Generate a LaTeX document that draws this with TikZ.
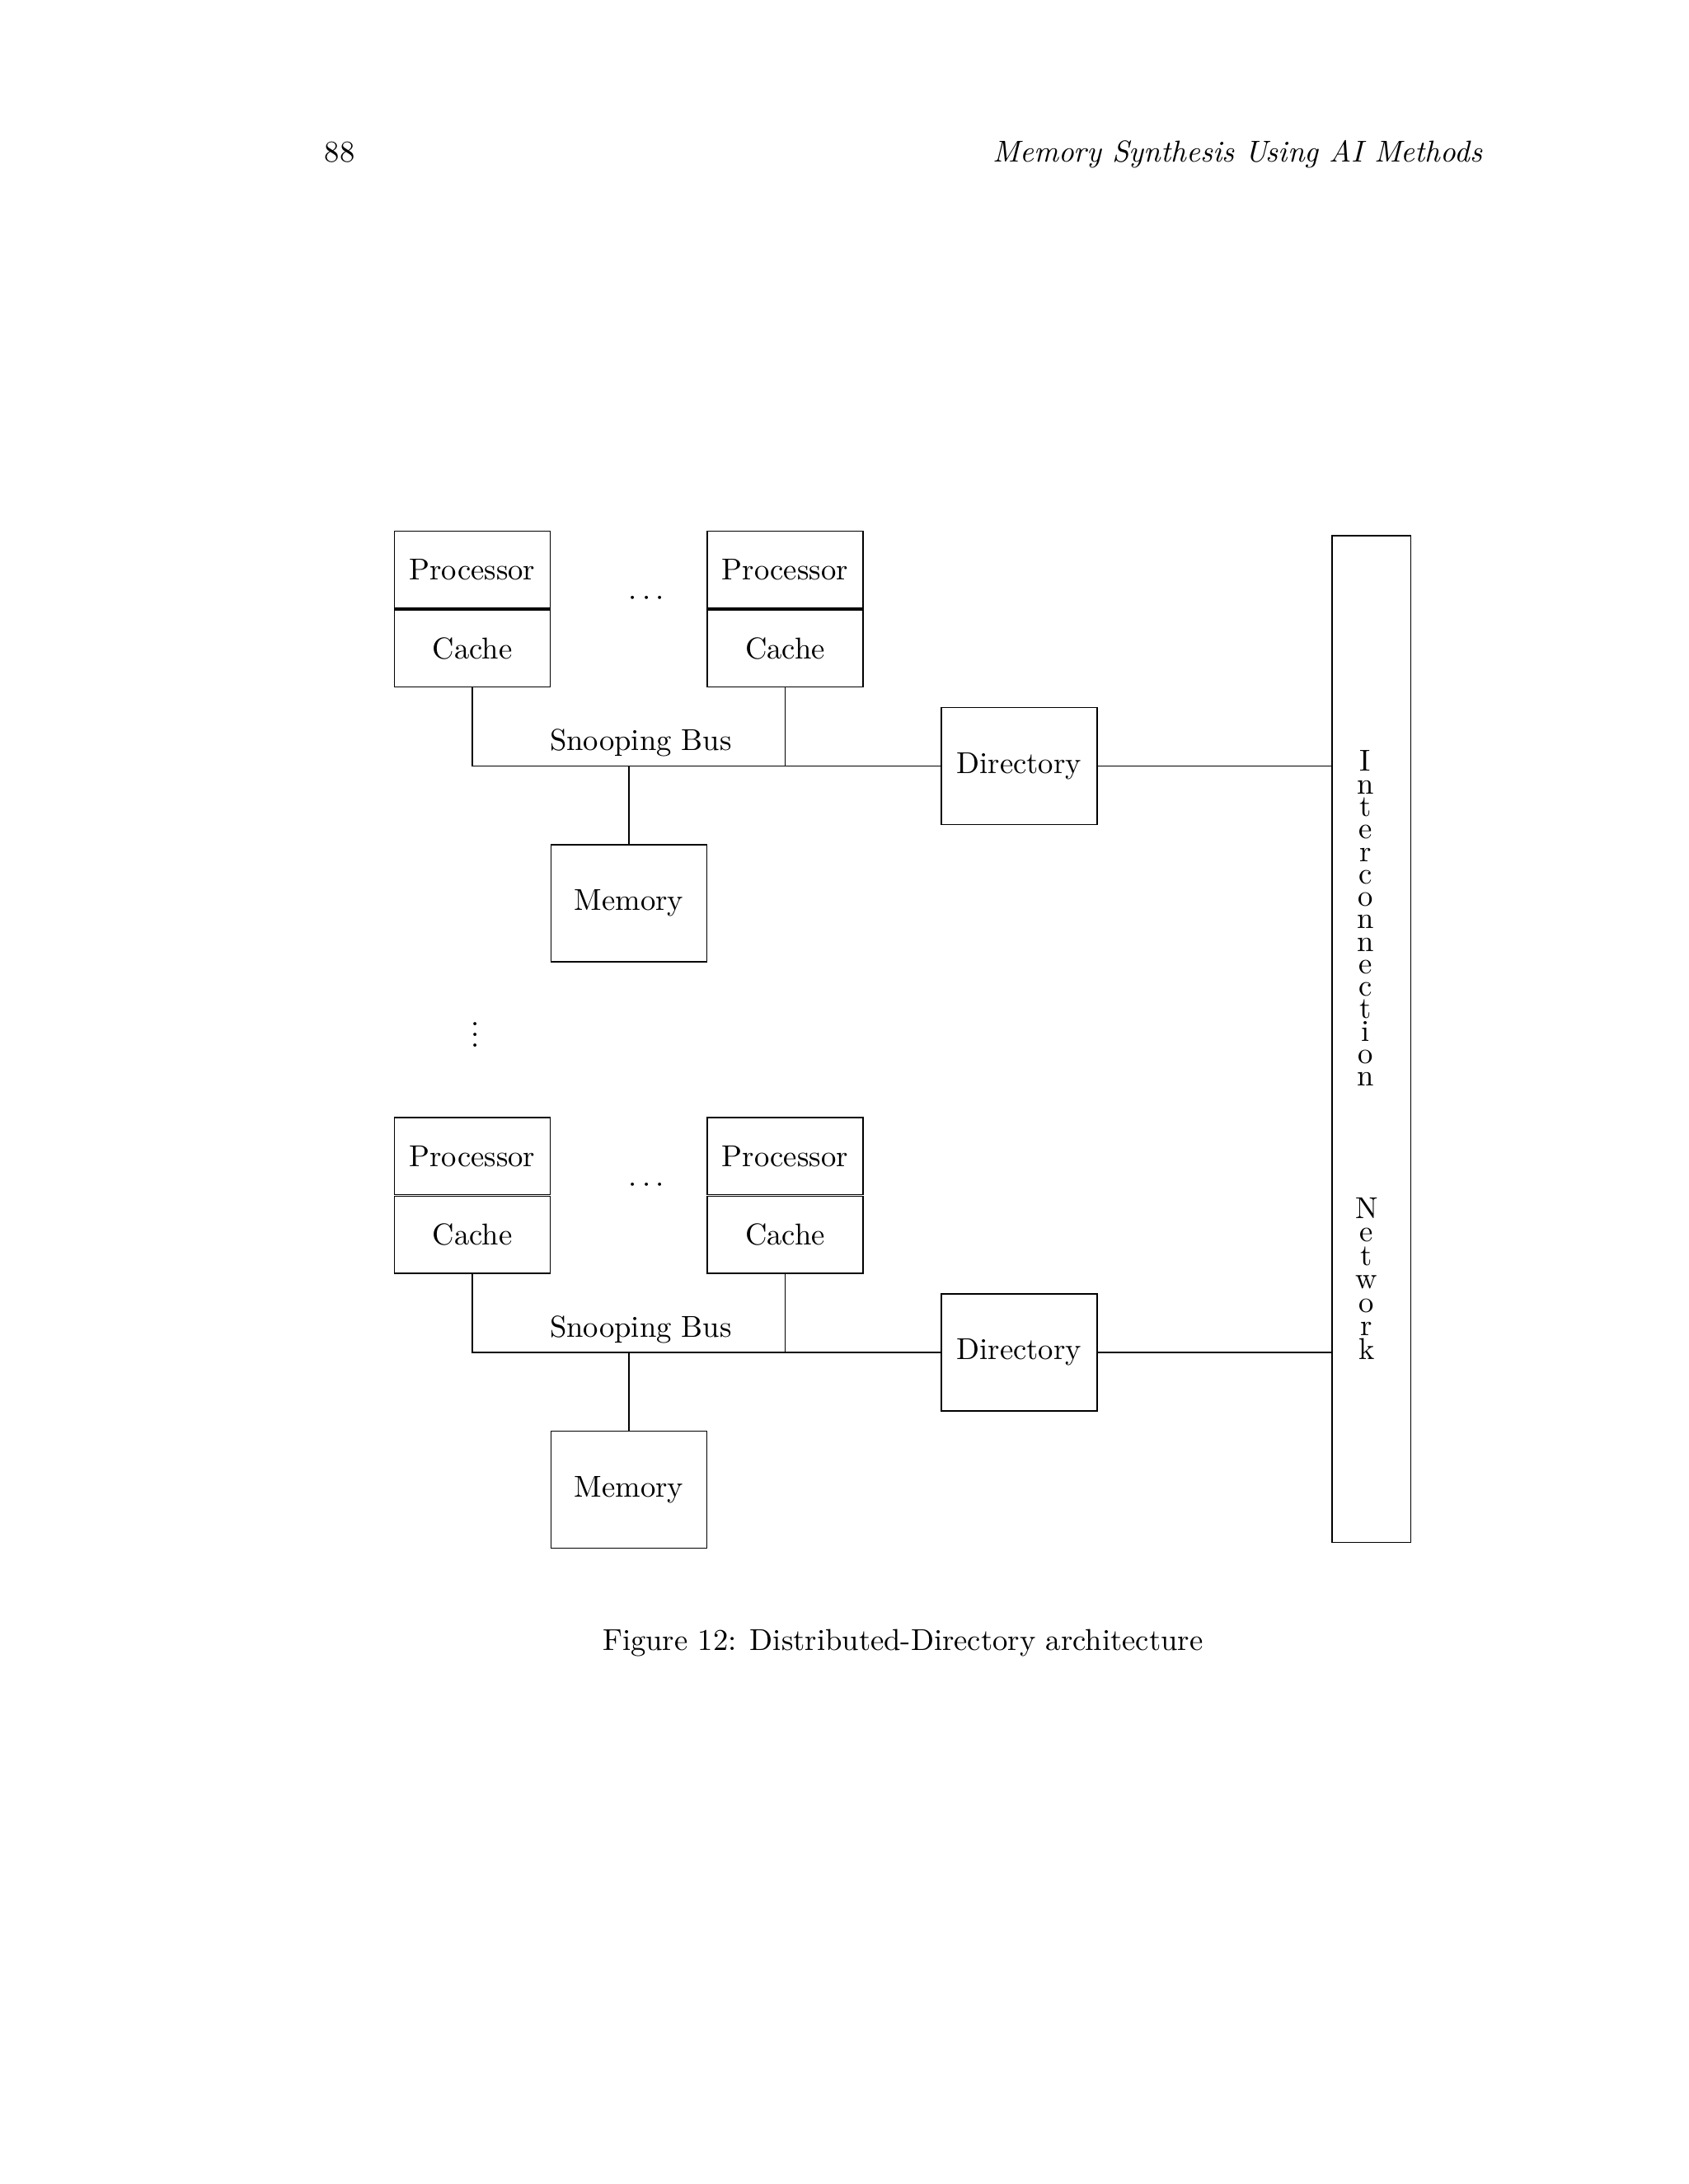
\documentclass[tikz,border=0pt]{standalone}
\begin{document}
\begin{tikzpicture}[x=0.505pt,y=-0.505pt,font=\fontsize{10.95}{13.6}\selectfont,
  pc/.style={draw,line width=0.5pt,minimum width=56.5pt,minimum height=28pt,inner sep=0pt},
  big/.style={draw,line width=0.5pt,minimum width=56.5pt,minimum height=42.5pt,inner sep=0pt},
  ln/.style={line width=0.5pt}]
\useasboundingbox (0,0) rectangle (1212,1568);
\node[anchor=base west] (pg) at (226,116) {88};
\node[anchor=base east] (hd) at (1071,116) {\itshape Memory Synthesis Using AI Methods};
\node[draw,line width=0.5pt,minimum width=28.5pt,minimum height=365pt,inner sep=0pt] (net) at (984.5,746) {};
\node[font=\fontsize{10.95}{8.15}\selectfont,align=center,anchor=north] (t1) at (980,532) {I\\n\\t\\e\\r\\c\\o\\n\\n\\e\\c\\t\\i\\o\\n};
\node[font=\fontsize{10.95}{8.5}\selectfont,align=center,anchor=north] (t2) at (981,853) {N\\e\\t\\w\\o\\r\\k};
\foreach \dy/\s in {0/a,421/b}{
  \node[pc] (p1\s) at (339,409+\dy) {Processor};
  \node[pc] (c1\s) at (339,465.5+\dy) {Cache};
  \node[pc] (p2\s) at (563.5,409+\dy) {Processor};
  \node[pc] (c2\s) at (563.5,465.5+\dy) {Cache};
  \node (d\s) at (464,430+\dy) {$\cdots$};
  \node[big] (m\s) at (451.5,648.5+\dy) {Memory};
  \node[big] (dir\s) at (731.5,550+\dy) {Directory};
  \coordinate (j1\s) at (339,550+\dy);
  \coordinate (j2\s) at (451.5,550+\dy);
  \coordinate (j3\s) at (563.5,550+\dy);
  \draw[ln] (c1\s.south) -- (j1\s) -- (dir\s.west);
  \draw[ln] (c2\s.south) -- (j3\s);
  \draw[ln] (j2\s) -- (m\s.north);
  \draw[ln] (dir\s.east) -- (dir\s.east -| net.west);
  \node[anchor=base] (sb\s) at (460,539+\dy) {Snooping Bus};
}
\node (vd) at (341,737) {$\vdots$};
\node[anchor=base] (cap) at (648,1185) {Figure 12: Distributed-Directory architecture};
\end{tikzpicture}
\end{document}
